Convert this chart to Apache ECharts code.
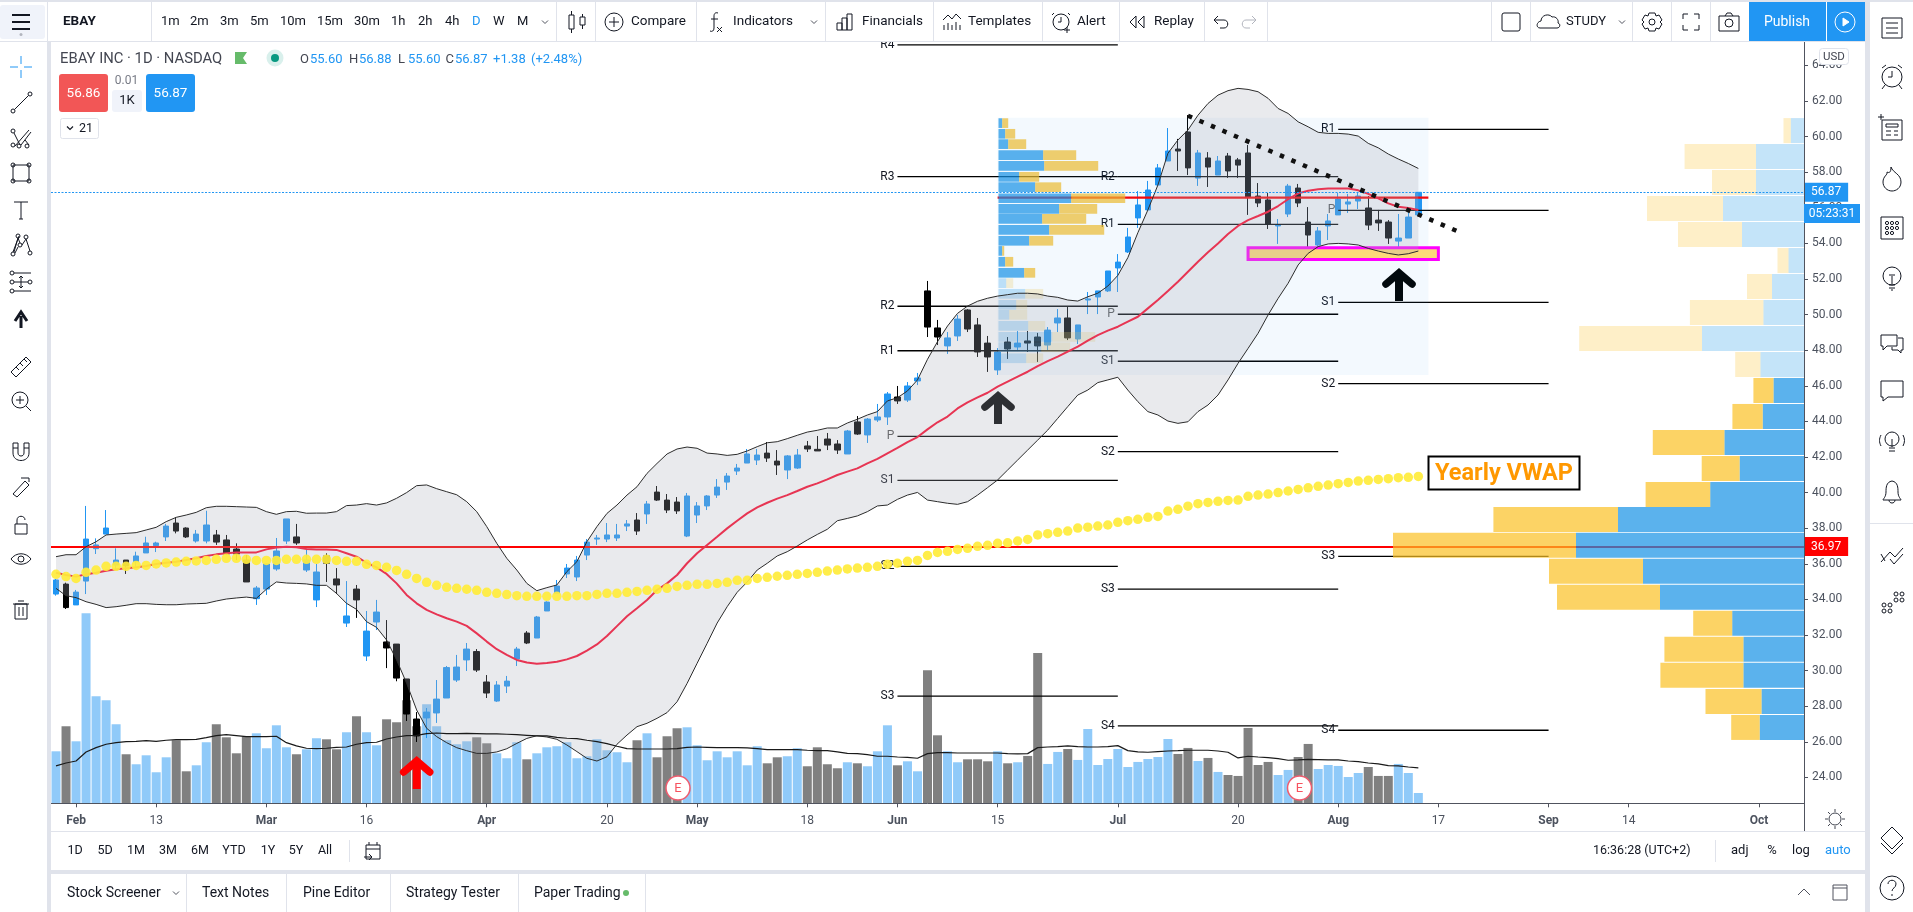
<!DOCTYPE html>
<html><head><meta charset="utf-8">
<style>html,body{margin:0;padding:0;background:#fff;overflow:hidden}#c{width:1913px;height:912px}</style>
<script src="https://cdn.jsdelivr.net/npm/echarts@6/dist/echarts.min.js"></script>
</head><body><div id="c"></div>
<script>
const opens=[34.30,34.86,33.69,35.03,36.85,37.67,35.93,36.21,36.12,36.61,37.02,37.51,38.29,38.01,37.28,37.28,37.62,37.34,36.83,36.21,34.04,34.58,35.71,37.28,37.51,35.65,33.97,36.44,35.15,32.67,34.58,30.82,32.73,31.61,31.49,29.53,27.28,27.34,27.62,28.46,29.47,30.60,31.07,29.36,28.29,29.13,30.65,32.11,31.83,33.35,34.34,35.43,35.26,36.49,37.39,37.39,37.45,38.12,38.46,38.80,40.03,39.58,39.47,37.56,38.74,39.25,39.86,40.59,41.21,41.66,41.83,42.22,41.77,41.27,41.38,42.62,42.43,43.01,42.73,42.17,43.97,43.24,44.08,44.25,45.37,45.20,46.27,51.33,49.25,48.24,48.80,50.26,49.42,48.40,46.89,48.46,48.18,48.52,48.74,48.29,49.53,49.81,48.63,50.82,50.99,51.33,52.62,53.52,55.43,55.88,57.28,58.63,59.30,60.26,57.67,58.80,57.84,58.91,58.69,59.08,56.66,56.44,54.98,55.65,57.11,55.20,53.91,54.98,55.60,56.21,56.38,55.99,55.31,55.20,54.13,54.30,55.60];
const closes=[35.09,33.54,34.41,37.39,37.06,38.01,36.21,35.88,36.44,37.17,37.17,38.12,37.84,37.51,37.67,38.18,37.22,36.55,36.55,34.98,34.64,35.99,36.72,38.52,37.17,36.21,35.54,36.03,34.81,33.07,33.97,32.22,33.29,31.27,29.58,27.56,26.33,27.67,28.40,30.17,30.20,31.21,30.03,28.74,29.19,29.41,31.21,31.55,33.01,33.85,34.75,35.76,36.21,37.22,37.45,37.62,37.62,38.24,37.84,39.36,39.58,39.02,38.97,39.81,39.25,39.81,40.31,40.93,41.38,42.17,42.11,41.94,41.55,42.06,42.11,42.45,42.34,42.67,42.39,43.46,43.29,44.13,44.25,45.54,45.15,45.99,46.44,49.30,48.74,48.69,49.75,49.19,47.90,47.62,47.90,48.07,48.40,48.40,48.24,49.13,49.81,48.69,49.42,50.88,51.33,52.45,52.95,54.36,56.16,57.00,58.24,59.19,59.19,58.24,59.08,58.29,58.63,58.07,58.40,56.61,56.27,55.09,55.03,57.22,56.27,54.47,54.70,55.26,56.49,56.33,56.66,55.03,55.15,54.30,54.30,55.48,56.87];
const lows=[34.21,33.46,33.69,34.30,36.55,37.67,35.65,35.43,35.80,36.61,36.66,37.28,37.71,37.45,37.19,37.15,37.06,36.49,36.21,34.98,33.69,34.25,35.61,37.11,37.06,35.54,33.57,34.98,34.30,32.45,32.96,30.54,32.28,30.14,29.40,27.17,25.99,26.21,27.06,28.46,29.36,29.98,29.92,28.46,28.24,28.74,30.26,31.49,31.83,33.35,34.34,35.20,35.03,36.21,37.06,37.22,37.28,37.84,37.62,38.24,39.53,38.85,38.80,37.50,38.29,39.02,39.70,40.15,40.99,41.66,41.55,41.72,40.99,40.76,41.33,42.28,42.34,42.39,42.17,42.17,43.24,42.79,43.97,43.80,44.98,45.09,46.04,48.74,48.29,47.79,48.52,49.02,47.62,46.78,46.61,47.51,47.95,47.90,47.34,48.01,49.02,48.57,48.35,50.03,50.03,51.27,51.27,53.46,54.87,55.88,57.28,58.63,58.07,57.84,57.23,57.17,57.84,57.68,57.68,55.60,56.04,54.81,53.97,55.48,56.04,53.80,53.74,54.19,55.60,55.71,55.93,54.75,54.70,53.97,53.80,54.30,55.60];
const highs=[35.15,34.94,34.53,39.25,37.43,39.02,36.87,36.21,36.68,37.52,37.24,38.24,38.61,38.05,37.90,38.98,37.90,37.62,37.15,36.49,34.75,36.03,37.45,38.52,38.24,36.78,35.99,36.59,35.76,35.03,34.81,33.35,33.97,32.84,31.49,29.53,27.67,27.90,29.47,30.26,30.88,31.55,31.21,29.75,29.41,29.70,31.33,32.22,33.07,33.89,35.09,35.99,36.44,37.39,37.62,38.29,38.24,38.46,38.85,39.53,40.37,39.92,39.75,39.98,39.47,39.86,40.76,41.10,41.61,42.45,42.45,42.84,42.39,42.11,42.45,42.90,43.18,43.35,42.95,43.52,44.30,44.19,44.98,45.65,45.99,46.21,46.72,51.89,49.70,49.02,49.98,50.31,49.81,48.80,48.12,48.74,49.08,49.08,48.97,49.30,50.31,50.43,49.42,51.27,51.33,52.45,53.40,54.87,56.94,57.51,58.46,60.48,59.87,61.21,59.25,59.13,58.91,59.08,58.80,59.53,57.39,56.83,55.37,57.34,57.34,56.04,54.92,55.65,56.83,56.78,56.89,56.66,55.88,55.31,55.65,55.88,56.88];
const volumes=[6.5,9.63,7.75,23.75,13.38,12.88,9.88,6.13,4.88,6,3.88,5.75,7.88,4,4.75,7.63,9.88,8.25,6.25,8.38,8.75,6.88,9.75,7,6.13,6.75,8.13,8,6.75,8.88,10.88,8.88,7.25,10.5,10.13,12.88,9.63,12.38,9.63,7.88,7.38,7.75,8.25,7.5,6.25,5.63,7.63,5.5,6.25,7,7.13,7.63,5.63,5.88,8,6.63,6.38,5.13,7.88,8.75,5.75,8.38,9.38,9.5,7.25,5.38,6.5,5.75,6.5,4.75,7.13,5,5.75,5.88,6.88,4.63,7,4.88,4.38,5.13,5,4.63,6.5,9.75,4.75,5.25,4,16.63,8.5,6.5,5.13,5.5,5.5,5.25,6.5,5,5.13,5.92,18.79,4.92,6.42,6.79,5.42,9.29,4.79,5.54,6.79,4.54,5.17,5.54,5.79,8.04,6.17,6.92,5.29,5.67,3.92,3.54,3.42,9.42,4.79,5.17,3.54,4.17,5.79,7.42,4.29,4.79,4.67,3.29,3.79,4.54,3.42,3.42,4.92,3.79,1.29];
const volumeMA=[4.67,5.04,5.29,6.42,6.96,7.38,7.58,7.71,7.75,7.83,7.75,7.88,7.96,7.96,8,8.21,8.46,8.58,8.46,8.33,8.33,8.33,8.38,7.58,7.17,6.88,6.83,6.88,7,7.04,7.38,7.58,7.63,8.04,8.29,8.46,8.5,8.71,8.79,8.71,8.71,8.75,8.71,8.67,8.67,8.63,8.58,8.5,8.42,8.42,8.25,8.13,8.08,7.88,7.71,7.46,7.13,6.83,6.79,6.79,6.79,6.79,6.83,7,7.04,7,6.96,6.96,6.96,6.92,6.83,6.71,6.71,6.71,6.71,6.63,6.58,6.58,6.42,6.25,6.21,6.08,5.88,5.88,5.79,5.75,5.63,6.21,6.33,6.33,6.29,6.29,6.29,6.29,6.29,6.21,6.17,6.21,6.96,7.04,7.08,7.17,7.08,7.04,7.04,7.08,7.21,6.58,6.42,6.38,6.46,6.54,6.58,6.63,6.63,6.63,6.54,6.38,5.67,5.88,5.79,5.71,5.58,5.38,5.42,5.5,5.46,5.42,5.42,5.29,5.21,5.04,4.92,4.71,4.67,4.54,4.42];
const bbUpper=[36.40,36.51,36.51,36.96,37.24,37.62,37.67,37.71,37.75,37.90,38.05,38.37,38.61,38.74,38.89,39.15,39.23,39.23,39.21,39.19,39.17,38.93,38.78,38.93,38.95,38.84,38.85,38.85,38.93,39.27,39.30,39.38,39.30,39.42,39.68,40.0,40.39,40.43,40.22,40.05,39.88,39.49,38.93,38.09,37.15,36.31,35.65,34.90,34.49,34.66,34.81,35.56,36.12,37.24,38.09,38.83,39.30,39.86,40.33,41.08,41.64,42.17,42.45,42.56,42.49,42.22,42.17,42.09,42.15,42.34,42.58,42.80,42.86,43.03,43.22,43.40,43.50,43.63,43.63,43.91,44.12,44.36,44.55,45.15,45.33,45.71,46.33,47.49,48.48,49.36,50.07,50.48,50.75,50.92,51.04,51.12,51.2,51.2,51.16,51.04,50.97,50.82,50.76,51.0,51.2,51.6,52.2,53.2,54.6,55.88,57.28,59.06,59.81,60.37,61.2,61.86,62.33,62.58,62.71,62.65,62.52,62.15,61.58,61.30,60.83,60.55,60.24,60.18,60.18,60.14,60.03,59.62,59.37,59.02,58.74,58.49,58.21];
const bbLower=[34.62,34.21,34.10,33.87,33.72,33.54,33.59,33.67,33.76,33.76,33.72,33.70,33.70,33.74,33.76,33.78,33.91,34.02,34.08,34.13,34.06,34.57,34.98,34.92,34.90,34.87,34.79,34.79,34.34,33.78,33.44,32.75,32.43,31.72,30.60,29.29,27.79,26.76,26.29,25.95,25.67,25.50,25.35,25.35,25.43,25.61,25.91,26.19,26.34,26.27,26.14,25.82,25.45,25.07,24.92,25.16,25.86,26.38,26.85,27.04,27.32,27.64,28.25,29.28,30.41,31.53,32.67,33.59,34.4,34.98,35.65,36.03,36.44,36.68,37.0,37.34,37.65,37.94,38.42,38.55,38.69,38.93,39.25,39.30,39.62,39.86,40.01,39.58,39.49,39.40,39.34,39.49,39.86,40.28,40.71,41.27,41.83,42.39,42.95,43.51,44.17,44.83,45.48,45.76,46.18,46.33,46.48,45.76,45.11,44.55,44.36,44.02,43.89,43.98,44.55,44.92,45.48,46.33,47.26,48.10,48.95,49.98,50.91,51.76,52.79,53.44,53.82,53.97,54.0,53.97,53.91,53.72,53.57,53.44,53.35,53.42,53.57];
const bbBasis=[35.50,35.37,35.28,35.41,35.50,35.61,35.69,35.75,35.80,35.88,35.99,36.06,36.12,36.21,36.31,36.44,36.53,36.59,36.63,36.63,36.64,36.81,36.91,36.96,36.93,36.83,36.81,36.81,36.78,36.59,36.40,36.06,35.80,35.43,34.90,34.25,33.78,33.41,33.16,32.94,32.75,32.51,32.09,31.63,31.20,30.88,30.60,30.45,30.39,30.43,30.50,30.63,30.82,31.12,31.47,31.94,32.5,33.05,33.50,33.97,34.53,34.90,35.37,36.03,36.59,37.06,37.52,37.99,38.42,38.83,39.17,39.43,39.66,39.86,40.09,40.33,40.52,40.74,40.99,41.18,41.36,41.64,41.89,42.21,42.51,42.84,43.12,43.55,43.95,44.27,44.73,45.07,45.35,45.61,45.95,46.23,46.51,46.79,47.11,47.39,47.64,47.92,48.20,48.54,48.85,49.10,49.32,49.60,49.88,50.35,50.82,51.33,51.85,52.41,52.97,53.50,54.0,54.53,54.98,55.31,55.54,55.78,56.10,56.48,56.81,56.96,57.04,57.09,57.09,57.08,56.98,56.78,56.53,56.25,56.06,55.99,55.88];
const vwap=[35.41,35.28,35.18,35.52,35.65,35.86,35.86,35.86,35.91,35.91,35.99,36.05,36.10,36.14,36.16,36.19,36.25,36.31,36.31,36.25,36.19,36.19,36.19,36.25,36.25,36.25,36.25,36.25,36.19,36.14,36.14,35.97,35.91,35.80,35.63,35.41,35.18,34.96,34.79,34.68,34.62,34.57,34.51,34.40,34.34,34.27,34.21,34.17,34.17,34.17,34.17,34.17,34.21,34.21,34.28,34.34,34.34,34.40,34.45,34.51,34.57,34.62,34.73,34.79,34.85,34.85,34.90,34.96,35.07,35.07,35.18,35.24,35.30,35.35,35.41,35.46,35.52,35.59,35.65,35.71,35.76,35.80,35.86,35.97,36.03,36.14,36.19,36.47,36.64,36.70,36.81,36.87,36.98,37.04,37.15,37.18,37.28,37.37,37.62,37.69,37.77,37.84,38.01,38.06,38.12,38.18,38.33,38.42,38.50,38.61,38.66,38.96,39.06,39.24,39.38,39.45,39.51,39.56,39.58,39.79,39.86,39.92,40.0,40.09,40.18,40.27,40.35,40.42,40.50,40.57,40.65,40.69,40.74,40.78,40.84,40.86,40.91];
const tickIndex=[2,10,21,31,43,55,64,75,84,94,106,118,128,138,149,157,170];
const tickLabels=['Feb','13','Mar','16','Apr','20','May','18','Jun','15','Jul','20','Aug','17','Sep','14','Oct'];
const priceTicks=[24,26,28,30,32,34,36,38,40,42,44,46,48,50,52,54,56,58,60,62,64];
const pivotNames=['R4','R3','R2','R1','P','S1','S2','S3','R3','R2','R1','P','S1','S2','S3','S4','R1','P','S1','S2','S3','S4'];
const pivotPrices=[65.15,57.75,50.47,47.97,43.16,40.69,35.86,28.57,65.5,57.75,55.07,50.02,47.38,42.30,34.58,26.89,60.41,55.86,50.69,46.12,36.42,26.65];
const pivotStart=[84,84,84,84,84,84,84,84,106,106,106,106,106,106,106,106,128,128,128,128,128,128];
const pivotEnd=[106,106,106,106,106,106,106,106,128,128,128,128,128,128,128,128,149,149,149,149,149,149];
const vrTop=[61.04,59.58,58.12,56.66,55.20,53.74,52.28,50.82,49.36,47.90,46.44,44.98,43.52,42.06,40.60,39.19,37.74,36.28,34.82,33.36,31.90,30.44,28.97,27.51];
const vrUp=[13.2,48,48,81,62,15.5,32,40.6,102,43.6,30.5,41.3,79.6,64.4,93.8,186,228,161,144,71.8,60.6,60.6,42.5,44.3];
const vrDown=[7.3,71.4,44,76,64,11,25,73.5,122.8,25.2,20.1,30.3,71.6,37.9,64.6,124.6,183,94,103,39,79,83,56,28.5];
const frTop=[61.03,60.43,59.85,59.23,58.63,58.01,57.43,56.81,56.21,55.65,55.03,54.42,53.85,53.24,52.62,52.04,51.44,50.82,50.26,49.64,49.02,48.44,47.82];
const frUp=[3.7,6.7,9.7,44.7,45.7,20.7,36.7,72.7,60.7,43.7,50.7,30.7,3.7,6.7,25.7,7.7,26.7,17.7,10.7,29.7,53.7,42.7,27.7];
const frDown=[6,10,18,33,54,20,26,54,38,44,55,24,2,8,11,7,18,11,18,17,43,29,17];
const lastPrice=56.87, keyLevel=36.97, rangeLevel=56.57;
const zoneBars=[119,138], zonePrices=[53.76,53.1];

const BAR_COUNT=175;
const categories=Array.from({length:BAR_COUNT},(_,i)=>String(i));
const isTick=(i)=>tickIndex.includes(i);
const ohlc=opens.map((o,i)=>[o,closes[i],lows[i],highs[i]]);
const volData=volumes.map((v,i)=>({value:v,itemStyle:{color:closes[i]<opens[i]?'#808080':'#90caf9'}}));
const FONT='Roboto, sans-serif';
const UP='#2196f3', DOWN='#000000';

function lineS(data,color,width,z,extra){return Object.assign({type:'line',xAxisIndex:0,yAxisIndex:0,data,showSymbol:false,symbol:'none',silent:true,z,lineStyle:{color,width}},extra||{});}
function profileItem(tops,rowH,paleFrom,paleUntil,cols){
  return function(params,api){
    const i=params.dataIndex;
    const up=api.value(0),dn=api.value(1),t=api.value(2);
    const a=api.coord([0,t]),b=api.coord([up,t-rowH]),c=api.coord([up+dn,t]);
    const pale=i>=paleFrom&&i<paleUntil;
    return {type:'group',children:[
      {type:'rect',shape:{x:Math.min(a[0],b[0]),y:a[1],width:Math.abs(a[0]-b[0]),height:b[1]-a[1]},style:{fill:pale?cols[2]:cols[0]}},
      {type:'rect',shape:{x:Math.min(b[0],c[0]),y:a[1],width:Math.abs(b[0]-c[0]),height:b[1]-a[1]},style:{fill:pale?cols[3]:cols[1]}}
    ]};
  };
}
const series=[
  {type:'bar',name:'Volume',xAxisIndex:1,yAxisIndex:1,data:volData,barWidth:9,z:10,silent:true},
  {type:'candlestick',name:'EBAY',xAxisIndex:0,yAxisIndex:0,data:ohlc,barWidth:6,z:20,silent:true,itemStyle:{color:UP,color0:DOWN,borderColor:UP,borderColor0:DOWN,borderWidth:1}},
];
pivotNames.forEach((n,i)=>{
  series.push(lineS([{value:[pivotStart[i],pivotPrices[i]],label:{show:true,formatter:n,position:'left',distance:3,fontFamily:FONT,fontSize:12,color:n==='P'?'#555':'#131722'}},{value:[pivotEnd[i],pivotPrices[i]],label:{show:false}}],'#000',1.3,21,{symbol:'circle',symbolSize:0.01,showSymbol:true,showAllSymbol:true,itemStyle:{color:'#000'}}));
});
series.push(lineS([[94,rangeLevel],[137,rangeLevel]],'#ff0000',2.4,22));
series.push(lineS([[94,keyLevel]],'transparent',0,22,{markLine:{silent:true,z:22,symbol:'none',animation:false,lineStyle:{color:'#ff0000',width:2,type:'solid'},label:{position:'end',distance:0,formatter:'36.97',color:'#fff',backgroundColor:'#ff0000',padding:[4,7,3,7],fontFamily:FONT,fontSize:12},data:[{yAxis:keyLevel}]}}));
series.push(lineS([[94,61]],'transparent',0,23,{markArea:{silent:true,z:23,itemStyle:{color:'rgba(33,150,243,0.055)'},data:[[{xAxis:94,yAxis:61.06},{xAxis:137,yAxis:46.6}]]}}));
series.push({type:'custom',xAxisIndex:3,yAxisIndex:3,z:24,silent:true,clip:false,data:frTop.map((t,i)=>[frUp[i],frDown[i],t]),encode:{x:[0,1],y:2},renderItem:profileItem(frTop,0.545,15,99,['rgba(21,146,230,.7)','rgba(233,186,48,.7)','rgba(21,146,230,.25)','rgba(233,200,90,.25)'])});
series.push({type:'custom',xAxisIndex:2,yAxisIndex:2,z:24,silent:true,clip:false,data:vrTop.map((t,i)=>[vrUp[i],vrDown[i],t]),encode:{x:[0,1],y:2},renderItem:profileItem(vrTop,1.405,0,10,['rgba(21,146,230,.7)','rgba(251,193,35,.7)','rgba(21,146,230,.25)','rgba(251,193,35,.25)'])});
series.push({type:'custom',xAxisIndex:0,yAxisIndex:0,z:25,silent:true,clip:false,data:[[zoneBars[0],zonePrices[0],zoneBars[1],zonePrices[1]]],encode:{x:[0,2],y:[1,3]},renderItem(p,api){
    const a=api.coord([api.value(0),api.value(1)]),b=api.coord([api.value(2),api.value(3)]);
    return {type:'group',children:[
      {type:'rect',shape:{x:a[0],y:a[1],width:b[0]-a[0],height:b[1]-a[1]},style:{fill:'#fcd97a'}},
      {type:'rect',shape:{x:a[0],y:a[1],width:b[0]-a[0],height:b[1]-a[1]},style:{fill:'none',stroke:'#ff00ff',lineWidth:3}}
    ]};
}});
series.push({type:'custom',xAxisIndex:0,yAxisIndex:0,z:30,silent:true,clip:false,data:[[0,bbUpper[0]]],encode:{x:0,y:1},renderItem(p,api){
  const pts=bbUpper.map((v,i)=>api.coord([i,v])).concat(bbLower.map((v,i)=>api.coord([i,v])).reverse());
  return {type:'polygon',shape:{points:pts},style:{fill:'rgba(171,174,186,0.263)'}};
}});
series.push(lineS(bbUpper,'#2c2c2c',1,31));
series.push(lineS(bbLower,'#2c2c2c',1,31));
series.push({type:'line',xAxisIndex:1,yAxisIndex:1,data:volumeMA,showSymbol:false,symbol:'none',silent:true,z:31,lineStyle:{color:'#1a1a1a',width:1.2}});
series.push(lineS(bbBasis,'#e73553',2,32));
series.push(lineS([[94,lastPrice]],'transparent',0,33,{markLine:{silent:true,z:33,symbol:'none',animation:false,lineStyle:{color:'#2196f3',width:1,type:[2,1.5]},label:{position:'end',distance:0,formatter:'56.87',color:'#fff',backgroundColor:'#2196f3',padding:[4,7,3,7],fontFamily:FONT,fontSize:12},data:[{yAxis:lastPrice}]}}));
series.push({type:'scatter',xAxisIndex:0,yAxisIndex:0,data:vwap.map((v,i)=>[i,v]),symbol:'circle',symbolSize:9.5,z:35,silent:true,itemStyle:{color:'#ffeb3b',opacity:.92}});
series.push(lineS([[113,61.17],[140,54.66]],'#111',4.5,36,{lineStyle:{color:'#111',width:4.5,type:[4.5,8]}}));

// ---- chrome
const g=[];
const C='#131722', GAP='#e0e3eb';
const rect=(x,y,w,h,fill,z,extra)=>g.push({type:'rect',silent:true,z:z||100,shape:Object.assign({x,y,width:w,height:h},extra&&extra.r?{r:extra.r}:{}),style:Object.assign({fill:fill},extra&&extra.stroke?{stroke:extra.stroke,lineWidth:extra.lw||1}:{})});
const txt=(x,y,text,size,fill,extra)=>{extra=extra||{};g.push({type:'text',silent:true,z:extra.z||110,x,y,style:{text,font:(extra.w||'400')+' '+size+'px '+(extra.f||FONT),fill:fill||C,textAlign:extra.a||'left',textVerticalAlign:'middle'}});};
const c=(x,y,r)=>`M${x-r} ${y}a${r} ${r} 0 1 0 ${2*r} 0a${r} ${r} 0 1 0 ${-2*r} 0`;
const R=(x,y,w,h)=>`M${x} ${y}h${w}v${h}h${-w}z`;
let icN=0;
const ic=(x,y,d,stroke,lw,fill)=>{const name='tvicon'+(icN++);echarts.graphic.registerShape(name,echarts.graphic.extendPath(d));g.push({type:name,silent:true,z:110,x,y,style:{fill:fill||'none',stroke:stroke||C,lineWidth:lw||1}});};
const sep=(x,y1,y2)=>rect(x,y1,1,y2-y1,GAP,105);

rect(51,2,1814,39,'#fff',100); rect(0,0,1913,2,GAP,101); rect(0,41,1865,1,GAP,101);
rect(47,0,1,912,GAP,101); rect(47,42,4,870,GAP,101); rect(1865,0,5,912,GAP,101); rect(1870,2,43,910,'#fff',100);
rect(51,831,1814,1,GAP,101); rect(47,870,1818,4,GAP,101);
rect(0,5,45,34,'#f0f3fa',102,{r:3});
rect(1804,813,1,18,'#50535e',102);
// top bar
txt(63,22,'EBAY',13.5,C,{w:'700'});
[['1m',161],['2m',190],['3m',220],['5m',250],['10m',280],['15m',317],['30m',354],['1h',391],['2h',418],['4h',445],['D',472],['W',493],['M',517]].forEach(([t,x])=>txt(x,22,t,13,t==='D'?'#2196f3':C));
ic(545,22,'M-3-1.5L0 1.5L3-1.5','#50535e');
[151,556,595,696,825,933,1042,1119,1204,1267,1491,1530,1632,1671,1710].forEach(x=>sep(x,2,41));
ic(577,22,R(-8,-7,5,14)+'M-5.5-11V-7M-5.5 7V11'+R(3,-5,5,8)+'M5.5-8V-5M5.5 3V7');
ic(614,22,c(0,0,9)+'M0-5V5M-5 0H5');
txt(631,22,'Compare',13.5);
ic(715,22,'M3-9C0-10-1-8-1-6V6C-1 9-3 10-5 9M-4-3H3M2 5L7 10M7 5L2 10');
txt(733,22,'Indicators',13.5);ic(814,22,'M-3-1.5L0 1.5L3-1.5','#50535e');
ic(845,22,R(-8,1,5,7)+R(-3,-4,5,12)+R(2,-8,5,16));txt(862,22,'Financials',13.5);
ic(952,22,'M-9-2L-4-7L0-3L4-8L9-3M-8 3V8M-4 1V8M0 3V8M4 0V8M8 3V8');txt(968,22,'Templates',13.5);
ic(1061,22,c(0,0,8)+'M0-5V0H-3M-7-9L-9-7M7-9L9-7M6 5V11M3 8H9');txt(1077,22,'Alert',13.5);
ic(1138,22,'M-2-6L-8 0L-2 6ZM6-6L0 0L6 6Z');txt(1154,22,'Replay',13.5);
ic(1221,22,'M-7-2H3C8-2 8 6 3 6H-1M-3-6L-7-2L-3 2');ic(1249,22,'M7-2H-3C-8-2-8 6-3 6H1M3-6L7-2L3 2','#b2b5be');
rect(1502,13,18,18,'#fff',110,{r:2,stroke:C});
ic(1549,22,'M-9 6C-13 6-13 0-8-1C-8-7 0-9 3-5C7-6 10-2 9 1C12 2 11 6 8 6Z',C,1);
txt(1566,22,'STUDY',13);ic(1622,22,'M-3-1.5L0 1.5L3-1.5','#50535e');
ic(1652,22,c(0,0,3)+'M-3-9H3L4-6L7-7L10-2L8 0L10 2L7 7L4 6L3 9H-3L-4 6L-7 7L-10 2L-8 0L-10-2L-7-7L-4-6Z');
ic(1691,22,'M-8-3V-8H-3M3-8H8V-3M8 3V8H3M-3 8H-8V3');
ic(1729,22,R(-10,-6,20,15)+c(0,1,4)+'M-4-6L-2-9H2L4-6');
rect(1749,2,77,39,'#2196f3',105);rect(1827,2,38,39,'#2196f3',105);
txt(1787,22,'Publish',14,'#fff',{a:'center'});
ic(1845,22,c(0,0,10),'#fff',1);ic(1845,22,'M-2-4L4 0L-2 4Z','#fff',1,'#fff');
// legend
txt(60,59,'EBAY INC · 1D · NASDAQ',14.8,'#434651');
g.push({type:'polygon',silent:true,z:110,shape:{points:[[235,52],[247,52],[243,58],[247,64],[235,64]]},style:{fill:'#66bb6a'}});
g.push({type:'circle',silent:true,z:110,shape:{cx:275,cy:58,r:8.5},style:{fill:'#d9f0ec'}});
g.push({type:'circle',silent:true,z:111,shape:{cx:275,cy:58,r:4},style:{fill:'#089981'}});
[['O',300,0],['55.60',310,1],['H',349,0],['56.88',359,1],['L',398,0],['55.60',408,1],['C',445.5,0],['56.87',455,1],['+1.38',493,1],['(+2.48%)',531,1]].forEach(([t,x,b])=>txt(x,60,t,13,b?'#2196f3':'#434651'));
rect(59,74,49,38,'#f25656',110,{r:3});txt(83.5,94,'56.86',13.5,'#fff',{a:'center',z:111});
txt(126.5,81,'0.01',12,'#787b86',{a:'center'});
rect(112,90,30,22,'#f0f3fa',110,{r:3});txt(127,101,'1K',13,C,{a:'center',z:111});
rect(146,74,49,38,'#2196f3',110,{r:3});txt(170.5,94,'56.87',13.5,'#fff',{a:'center',z:111});
rect(60.5,118.5,38,20,'#fff',110,{r:2,stroke:GAP});ic(70,128,'M-3-1.5L0 1.5L3-1.5',C,1.2);txt(79,128.5,'21',12.5,C,{z:111});
// axis extras
rect(1819.5,48.5,29,16,'#fff',110,{r:3,stroke:GAP});txt(1834,57,'USD',11.5,'#434651',{a:'center',z:111});
rect(1804,204,56,19,'#2196f3',110);txt(1832,214,'05:23:31',12,'#fff',{a:'center',z:111});
// Yearly VWAP
g.push({type:'rect',silent:true,z:60,shape:{x:1428.5,y:456.5,width:151,height:33},style:{fill:'#fff',stroke:'#000',lineWidth:2}});
txt(1504,474,'Yearly VWAP',23.5,'#ff9800',{a:'center',w:'700',z:61});
// arrows
const arrow=(cx,tip,col)=>g.push({type:'group',silent:true,children:[
 {type:'polyline',silent:true,z:50,shape:{points:[[cx-13,tip+14],[cx,tip+3],[cx+13,tip+14]]},style:{fill:'none',stroke:col,lineWidth:7.5,lineCap:'round'}},
 {type:'line',silent:true,z:50,shape:{x1:cx,y1:tip+4,x2:cx,y2:tip+31},style:{stroke:col,lineWidth:8,lineCap:'butt'}}]});
arrow(998,393,'#2d2f33');arrow(1399,270,'#020a0e');arrow(416.7,758,'#ff0000');
// earnings
[678,1299.5].forEach(x=>{g.push({type:'circle',silent:true,z:50,shape:{cx:x,cy:788,r:12},style:{fill:'#fff',stroke:'#ef5c6e',lineWidth:1.5}});txt(x,788.5,'E',13,'#f7525f',{a:'center',z:51});});
// bottom rows
[['1D',75],['5D',105],['1M',136],['3M',168],['6M',200],['YTD',234],['1Y',268],['5Y',296],['All',325]].forEach(([t,x])=>txt(x,851,t,12.5,C,{a:'center'}));
sep(349,840,862);
ic(373,851,R(-7,-6,14,14)+'M-7-2H7M-4-9V-6M4-9V-6M-9 6H-1M-4 3L-1 6L-4 9');
txt(1593,851,'16:36:28 (UTC+2)',12.5,C);sep(1715,840,862);
txt(1731,851,'adj',13,C);txt(1772,851,'%',13,C,{a:'center'});txt(1792,851,'log',13,C);txt(1825,851,'auto',13,'#2196f3');
ic(1835,819,c(0,0,6)+'M0-10V-7M0 7V10M-10 0H-7M7 0H10M-7-7L-5-5M5 5L7 7M-7 7L-5 5M5-5L7-7','#434651');
rect(51,874,1814,38,'#fff',100);
[['Stock Screener',67],['Text Notes',202],['Pine Editor',303],['Strategy Tester',406],['Paper Trading',534]].forEach(([t,x])=>txt(x,893,t,14,C));
ic(176,893,'M-3-1.5L0 1.5L3-1.5','#50535e');
[186,286,390,518,645].forEach(x=>sep(x,874,912));
g.push({type:'circle',silent:true,z:110,shape:{cx:626,cy:893,r:3},style:{fill:'#66bb6a'}});
ic(1804,892,'M-6 3L0-3L6 3','#50535e');ic(1840,892,R(-7,-7,14,15)+'M-7-4H7','#50535e');
// left tools
const L=21;
ic(L,22,'M-9-7H9M-9 0H9M-9 7H9',C,2);
g.push({type:'circle',silent:true,z:110,shape:{cx:21,cy:34.5,r:1.5},style:{fill:'#b2b5be'}});
ic(L,67,'M0-11V-3M0 3V11M-11 0H-3M3 0H11','#2196f3',1);
ic(L,102,c(-8,9,2)+c(9,-8,2)+'M-6.5 7.5L7.5-6.5');
ic(L,138,c(-8,-7,2)+c(-8,7,2)+c(-2,8,2)+c(6,8,2)+'M-7-5L-1 7M-6 8L8-8M0 7L10-6M8 7L4 2');
ic(L,173,R(-8,-8,16,16)+c(-8,-8,2)+c(8,-8,2)+c(-8,8,2)+c(8,8,2));
ic(L,210,'M-7-8H7M0-8V9M-2 9H2');
ic(L,245,c(-8,9,2)+c(-3,-9,2)+c(5,-8,2)+c(9,8,2)+c(-1,0,2)+'M-7 7L-3-7L-1-2M1 0L5-6L9 6M-6 8L-3 2M-8 7L-2-9');
ic(L,282,c(-9,-9,2)+c(-9,0,2)+c(-9,9,2)+c(9,0,2)+'M-7-9H10M-7 0H7M-7 9H10M0-6V6M-2-4L0-6L2-4M-2 4L0 6L2 4');
ic(L,319,'M0 9V-3M-6 2L0-7L6 2',C,3);
ic(L,367,'M-10 5L5-10L10-5L-5 10ZM-5 0L-2 3M-1-4L2-1M3-8L6-5');
ic(L,401,c(-1,-1,8)+'M5 5L10 10M-5-1H3M-1-5V3');
ic(L,451,'M-8-8V2C-8 12 8 12 8 2V-8H3V2C3 6-3 6-3 2V-8ZM-8-3H-3M3-3H8');
ic(L,486,'M-8 8L4-5L8-1L-4 11ZM0 -8H8V-4');
ic(L,525,R(-6,-1,12,10)+'M-4-1V-5C-4-10 4-10 4-5');
ic(L,559,'M-10 0C-5-7 5-7 10 0C5 7-5 7-10 0Z'+c(0,0,3));
ic(L,610,R(-6,-6,12,15)+'M-8-6H8M-3-9H3M-2-3V6M2-3V6');
// right tools
const Q=1892;
ic(Q,28,R(-10,-10,20,20)+'M-6-5H6M-6 0H6M-6 5H6');
ic(Q,77,c(0,0,10)+'M0-6V0H-4M-10-9L-6-12M10-9L6-12M-7 8L-10 12M7 8L10 12');
ic(Q,128,R(-10,-8,20,20)+'M-6-4H6V-1H-6ZM-6 3H-1M2 3H6M-6 7H-1M2 7H6M-11-14V-8M-14-11H-8');
ic(Q,179,'M-1-12C1-6 9-5 9 3C9 9 4 12 0 12C-5 12-9 8-9 3C-9-3-4-4-5-7C-3-6-1-6-1-12');
ic(Q,228,R(-11,-11,22,22)+c(-5,-5,1.6)+c(0,-5,1.6)+c(5,-5,1.6)+c(-5,0,1.6)+c(0,0,1.6)+c(5,0,1.6)+c(-5,5,1.6)+c(0,5,1.6));
ic(Q,278,c(0,-2,9)+'M-3 7H3M-3 10H3M-1 12H1M0 6V-2M-3-3H3');
ic(Q,342,'M-11-7H5V4H-5L-9 8V4H-11ZM6-4H11V8H9V11L6 8H0V5');
ic(Q,390,'M-11-9H11V7H-4L-9 11V7H-11Z');
ic(Q,442,c(0,-3,7)+'M-3 6H3M-3 9H3M0 5V-3M-11-7C-13-3-13 0-11 4M11-7C13-3 13 0 11 4');
ic(Q,492,'M0-11C-6-10-6-4-6 0C-6 5-9 7-9 8H9C9 7 6 5 6 0C6-4 6-10 0-11ZM-3 8C-3 12 3 12 3 8');
rect(1870,523,43,1,GAP,105);
ic(Q,555,'M-11 7L-2-3L3 2L11-7M-11-1L-7 6M-2 4L2 9L11-1');
ic(Q,605,c(-8,6,2)+c(-8,0,2)+c(-2,6,2)+c(-2,0,2)+c(4,-5,2)+c(10,-5,2)+c(4,-11,2)+c(10,-11,2));
ic(Q,838,'M0-11L11 0L0 11L-11 0ZM-11 5L0 16L11 5');
ic(Q,888,c(0,0,12)+'M-4-4C-4-9 4-9 4-4C4 0 0 0 0 3M0 6V8');

const hideAxis={show:false,axisLine:{show:false},axisTick:{show:false},axisLabel:{show:false},splitLine:{show:false}};
const priceMin=22, priceMax=66;
const priceGrid={top:29.8,height:783.2};
const chart=echarts.init(document.getElementById('c'),null,{renderer:'canvas',width:1913,height:912});
chart.setOption({
  animation:false,backgroundColor:'#fff',textStyle:{fontFamily:FONT},
  grid:[
    {left:51,width:1753,top:priceGrid.top,height:priceGrid.height,containLabel:false},
    {left:51,width:1753,top:42,height:761.3,containLabel:false},
    {left:1384,width:420,top:priceGrid.top,height:priceGrid.height,containLabel:false},
    {left:998.5,width:200,top:priceGrid.top,height:priceGrid.height,containLabel:false}
  ],
  xAxis:[
    Object.assign({type:'category',gridIndex:0,data:categories},hideAxis),
    {type:'category',gridIndex:1,data:categories,z:40,boundaryGap:true,
      axisLine:{show:true,lineStyle:{color:'#50535e',width:1}},
      axisTick:{show:true,alignWithLabel:true,length:4,interval:(i)=>isTick(i),lineStyle:{color:'#50535e'}},
      axisLabel:{show:true,interval:(i)=>isTick(i),margin:12,fontSize:12,color:'#4c525e',fontFamily:FONT,hideOverlap:false,
        formatter:(v)=>{const s=tickLabels[tickIndex.indexOf(+v)]||'';return /[a-z]/i.test(s)?'{b|'+s+'}':s;},
        rich:{b:{fontWeight:700,fontSize:12,color:'#4c525e',fontFamily:FONT}}},
      splitLine:{show:false}},
    Object.assign({type:'value',gridIndex:2,min:0,max:420,inverse:true},hideAxis),
    Object.assign({type:'value',gridIndex:3,min:0,max:200},hideAxis)
  ],
  yAxis:[
    {type:'value',gridIndex:0,position:'right',min:priceMin,max:priceMax,interval:2,z:40,
      axisLine:{show:true,onZero:false,lineStyle:{color:'#50535e'}},
      axisTick:{show:true,length:4,customValues:priceTicks,lineStyle:{color:'#50535e'}},
      axisLabel:{show:true,margin:8,padding:[3,0,0,0],customValues:priceTicks,fontSize:12,color:'#4c525e',fontFamily:FONT,formatter:(v)=>v.toFixed(2)},
      splitLine:{show:false}},
    Object.assign({type:'value',gridIndex:1,min:0,max:95.16},hideAxis),
    Object.assign({type:'value',gridIndex:2,min:priceMin,max:priceMax},hideAxis),
    Object.assign({type:'value',gridIndex:3,min:priceMin,max:priceMax},hideAxis)
  ],
  series,
  graphic:{elements:g}
});
</script></body></html>
